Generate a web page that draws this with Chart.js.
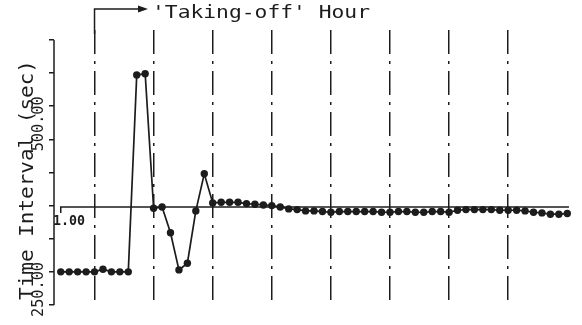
<!DOCTYPE html>
<html>
<head>
<meta charset="utf-8">
<script src="https://cdn.jsdelivr.net/npm/chart.js"></script>
<style>
  body { margin: 0; background: #fff; }
  canvas { display: block; }
</style>
</head>
<body>
<canvas id="interval-chart" width="582" height="325"></canvas>
<script>
// Sample numbers along the x axis
const samples = [
    1, 2, 3, 4, 5, 6, 7, 8, 9, 10,
    11, 12, 13, 14, 15, 16, 17, 18, 19, 20,
    21, 22, 23, 24, 25, 26, 27, 28, 29, 30,
    31, 32, 33, 34, 35, 36, 37, 38, 39, 40,
    41, 42, 43, 44, 45, 46, 47, 48, 49, 50,
    51, 52, 53, 54, 55, 56, 57, 58, 59, 60, 61
];

// Time interval (sec)
const intervals = [
    300, 300, 300, 300, 300, 304, 300, 300, 300, 597,
    599, 396, 398, 359, 303, 313, 392, 448, 404, 405,
    405, 405, 403, 402, 401, 400, 398, 395, 394, 392,
    392, 391, 390, 391, 391, 391, 391, 391, 390, 390,
    391, 391, 390, 390, 391, 391, 390, 393, 394, 394,
    394, 394, 393, 393, 393, 392, 390, 389, 387, 387, 388
];

// Hour boundaries (dash-dot lines), first one is the 'Taking-off' hour
const hourMarks = [5, 12, 19, 26, 33, 40, 47, 54];

// Reference line labelled 1.00
const refLineX = [1, 1, 61.2];
const refLineY = [389, 398, 398];

// y axis ticks and the ones that carry a label
const yTicks = [250, 300, 350, 400, 450, 500, 550, 600, 650];
const yLabelled = [250, 500];

const ink = '#1c1c1c';
const mono = '"DejaVu Sans Mono", "Liberation Mono", monospace';

// draws text squeezed/stretched to a given width
function fitText(c, text, x, y, width, font, rot) {
    c.save();
    c.font = font;
    c.translate(x, y);
    if (rot) c.rotate(rot);
    const w = c.measureText(text).width;
    c.scale(width / w, 1);
    c.textAlign = 'left';
    c.textBaseline = 'alphabetic';
    c.fillText(text, 0, 0);
    c.restore();
}

const overlay = {
    id: 'overlay',
    afterDraw(chart) {
        const c = chart.ctx;
        const area = chart.chartArea;
        const xs = chart.scales.x;
        const ys = chart.scales.y;
        c.save();
        c.strokeStyle = ink;
        c.fillStyle = ink;
        c.lineWidth = 1.5;

        // y axis line
        c.beginPath();
        c.moveTo(area.left, ys.getPixelForValue(yTicks[yTicks.length - 1]));
        c.lineTo(area.left, ys.getPixelForValue(yTicks[0]));
        c.stroke();

        // arrow to the title
        const ax = xs.getPixelForValue(hourMarks[0]);
        c.beginPath();
        c.moveTo(ax, area.top + 4);
        c.lineTo(ax, 9);
        c.lineTo(140, 9);
        c.stroke();
        c.beginPath();
        c.moveTo(148, 9);
        c.lineTo(138, 5.5);
        c.lineTo(138, 12.5);
        c.closePath();
        c.fill();

        fitText(c, "'Taking-off' Hour", 152, 18, 218, '18px ' + mono);
        fitText(c, 'Time Interval (sec)', 33, 300, 240, '19px ' + mono, -Math.PI / 2);

        yLabelled.forEach(v => {
            fitText(c, v.toFixed(2), 43, ys.getPixelForValue(v) + 12, 55, '15px ' + mono, -Math.PI / 2);
        });

        fitText(c, '1.00', 53, 225, 32, 'bold 14px ' + mono);
        c.restore();
    }
};

const ctx = document.getElementById('interval-chart').getContext('2d');
const intervalChart = new Chart(ctx, {
    type: 'line',
    data: {
        datasets: [{
            label: 'Time interval',
            data: samples.map((s, i) => ({ x: s, y: intervals[i] })),
            borderColor: ink,
            backgroundColor: ink,
            borderWidth: 1.7,
            pointRadius: 3.7,
            pointHoverRadius: 3.7,
            pointBorderWidth: 0,
            tension: 0
        }, {
            label: 'Reference',
            data: refLineX.map((s, i) => ({ x: s, y: refLineY[i] })),
            borderColor: ink,
            borderWidth: 1.5,
            pointRadius: 0,
            tension: 0
        }]
    },
    options: {
        responsive: false,
        animation: false,
        events: [],
        layout: {
            padding: { top: 30, bottom: 20, right: 4, left: 0 }
        },
        plugins: {
            legend: { display: false },
            tooltip: { enabled: false }
        },
        scales: {
            x: {
                type: 'linear',
                min: 0.2,
                max: 62.27,
                afterBuildTicks: scale => {
                    scale.ticks = hourMarks.map(v => ({ value: v }));
                },
                afterFit: scale => { scale.height = 0; },
                ticks: { display: false },
                grid: {
                    color: ink,
                    lineWidth: 1.5,
                    drawTicks: false
                },
                border: {
                    display: false,
                    dash: [24, 7, 3, 7]
                }
            },
            y: {
                min: 250,
                max: 665,
                afterBuildTicks: scale => {
                    scale.ticks = yTicks.map(v => ({ value: v }));
                },
                afterFit: scale => { scale.width = 54; },
                ticks: { display: false },
                grid: {
                    drawOnChartArea: false,
                    drawTicks: true,
                    tickLength: 5,
                    color: ink,
                    lineWidth: 1.5
                },
                border: { display: false }
            }
        }
    },
    plugins: [overlay]
});
</script>
</body>
</html>
